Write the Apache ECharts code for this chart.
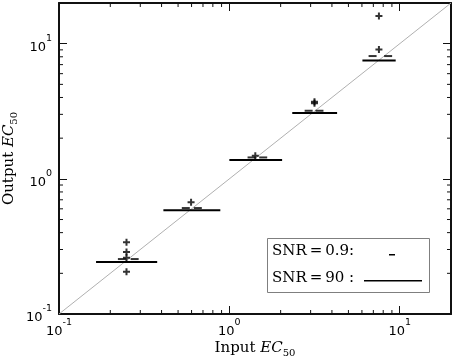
<!DOCTYPE html>
<html>
<head>
<meta charset="utf-8">
<script src="https://cdn.jsdelivr.net/npm/echarts@6/dist/echarts.min.js"></script>
<style>
html, body { margin: 0; padding: 0; background: #fff; }
#chart { width: 454px; height: 363px; }
</style>
</head>
<body>
<div id="chart"></div>
<script>
// input EC50 of each group
const inputEC50 = [0.249, 0.596, 1.42, 3.16, 7.55];
// SNR=90 : flat bar per group (output value, bar from low to high on x)
const snr90Output = [0.243, 0.585, 1.38, 3.07, 7.5];
const snr90Low = [0.165, 0.41, 1.0, 2.34, 6.04];
const snr90High = [0.377, 0.885, 2.04, 4.29, 9.47];
// SNR=0.9 : short dashes
const snr09X = [0.234, 0.278, 0.555, 0.653, 1.35, 1.58, 2.92, 3.38, 6.93, 8.55];
const snr09Y = [0.255, 0.255, 0.608, 0.608, 1.44, 1.44, 3.19, 3.19, 8.1, 8.1];
// outliers (+)
const flierX = [0.249, 0.249, 0.249, 0.249, 0.596, 1.42, 3.16, 3.16, 7.55, 7.55];
const flierY = [0.34, 0.287, 0.261, 0.205, 0.67, 1.48, 3.62, 3.72, 16.0, 9.07];
// identity line
const diagonal = [0.1, 20];
// minor log ticks
const minorTicks = [0.2, 0.3, 0.4, 0.5, 0.6, 0.7, 0.8, 0.9, 2, 3, 4, 5, 6, 7, 8, 9];

const chart = echarts.init(document.getElementById('chart'));

const plusPath = 'path://M0,2.5h7v2h-7z M2.5,0h2v7h-2z';
const dashPath = 'path://M0,0h8v2h-8z';

function powLabel(v) {
  const e = Math.log10(v);
  if (Math.abs(e - Math.round(e)) > 1e-6) return '';
  return '{b|10}{s|' + Math.round(e) + '}';
}

const labelRich = {
  b: { fontFamily: 'DejaVu Sans', fontSize: 13, color: '#000', lineHeight: 20, verticalAlign: 'bottom' },
  s: { fontFamily: 'DejaVu Sans', fontSize: 9.5, color: '#000', lineHeight: 15, verticalAlign: 'top' }
};
const nameRich = {
  a: { fontFamily: 'DejaVu Serif', fontSize: 15, color: '#000', lineHeight: 20, verticalAlign: 'middle' },
  i: { fontFamily: 'DejaVu Serif', fontStyle: 'italic', fontSize: 15, color: '#000', lineHeight: 20, verticalAlign: 'middle' },
  sub: { fontFamily: 'DejaVu Serif', fontSize: 10, color: '#000', lineHeight: 12, verticalAlign: 'bottom' }
};

function logAxis(extra) {
  return Object.assign({
    type: 'log', logBase: 10, min: 0.1, max: 20,
    axisLine: { show: true, lineStyle: { color: '#111', width: 2 } },
    axisTick: { show: true, inside: true, length: 8, lineStyle: { color: '#111', width: 1 } },
    splitLine: { show: false },
    minorTick: { show: false }
  }, extra);
}

const option = {
  animation: false,
  grid: { left: 59, right: 3, top: 3, bottom: 49, containLabel: false, outerBoundsMode: 'none' },
  xAxis: [
    logAxis({
      position: 'bottom',
      axisLabel: { formatter: powLabel, rich: labelRich, margin: 4, showMaxLabel: false },
      name: '{a|Input }{i|EC}{sub|50}',
      nameLocation: 'middle', nameGap: 24, nameMoveOverlap: false,
      nameTextStyle: { rich: nameRich }
    }),
    logAxis({ position: 'top', axisLabel: { show: false } })
  ],
  yAxis: [
    logAxis({
      position: 'left',
      axisLabel: { formatter: powLabel, rich: labelRich, margin: 7, showMaxLabel: false },
      name: '{a|Output }{i|EC}{sub|50}',
      nameLocation: 'middle', nameGap: 40, nameMoveOverlap: false,
      nameTextStyle: { rich: nameRich }
    }),
    logAxis({ position: 'right', axisLabel: { show: false } })
  ],
  series: [
    {
      type: 'line', silent: true, symbol: 'none', z: 1,
      data: diagonal.map(v => [v, v]),
      lineStyle: { color: '#b0b0b0', width: 1 }
    },
    {
      name: 'SNR=90', type: 'custom', z: 3, silent: true,
      data: inputEC50.map((x, i) => [snr90Low[i], snr90High[i], snr90Output[i]]),
      encode: { x: [0, 1], y: 2 },
      renderItem: (params, api) => {
        const a = api.coord([api.value(0), api.value(2)]);
        const b = api.coord([api.value(1), api.value(2)]);
        return {
          type: 'line',
          shape: { x1: a[0], y1: a[1], x2: b[0], y2: b[1] },
          style: { stroke: '#000', lineWidth: 2 }
        };
      }
    },
    {
      name: 'SNR=0.9', type: 'scatter', z: 4, silent: true,
      symbol: dashPath, symbolSize: [8, 2],
      itemStyle: { color: '#000' },
      data: snr09X.map((x, i) => [x, snr09Y[i]])
    },
    {
      name: 'outliers', type: 'scatter', z: 5, silent: true,
      symbol: plusPath, symbolSize: 7,
      itemStyle: { color: '#000' },
      data: flierX.map((x, i) => [x, flierY[i]])
    },
    {
      type: 'custom', silent: true, z: 6,
      data: minorTicks.map(v => [v, v]),
      renderItem: (params, api) => {
        const cs = params.coordSys;
        const px = api.coord([api.value(0), 1])[0];
        const py = api.coord([1, api.value(1)])[1];
        const len = 4;
        const st = { stroke: '#111', lineWidth: 1 };
        return {
          type: 'group',
          children: [
            { type: 'line', shape: { x1: px, y1: cs.y + cs.height, x2: px, y2: cs.y + cs.height - len }, style: st },
            { type: 'line', shape: { x1: px, y1: cs.y, x2: px, y2: cs.y + len }, style: st },
            { type: 'line', shape: { x1: cs.x, y1: py, x2: cs.x + len, y2: py }, style: st },
            { type: 'line', shape: { x1: cs.x + cs.width, y1: py, x2: cs.x + cs.width - len, y2: py }, style: st }
          ]
        };
      }
    }
  ],
  graphic: [
    {
      type: 'rect', left: 267, top: 238, z: 10,
      shape: { width: 162, height: 54 },
      style: { fill: '#fff', stroke: '#7f7f7f', lineWidth: 1 }
    },
    {
      type: 'text', left: 272, top: 244, z: 11,
      style: { text: 'SNR\u2009=\u20090.9:', font: '15px "DejaVu Serif"', fill: '#000' }
    },
    {
      type: 'text', left: 272, top: 271, z: 11,
      style: { text: 'SNR\u2009=\u200990 :', font: '15px "DejaVu Serif"', fill: '#000' }
    },
    {
      type: 'rect', left: 389, top: 254, z: 11,
      shape: { width: 6, height: 1.5 }, style: { fill: '#000' }
    },
    {
      type: 'rect', left: 364, top: 280, z: 11,
      shape: { width: 58, height: 1.5 }, style: { fill: '#000' }
    }
  ]
};

chart.setOption(option);
</script>
</body>
</html>
